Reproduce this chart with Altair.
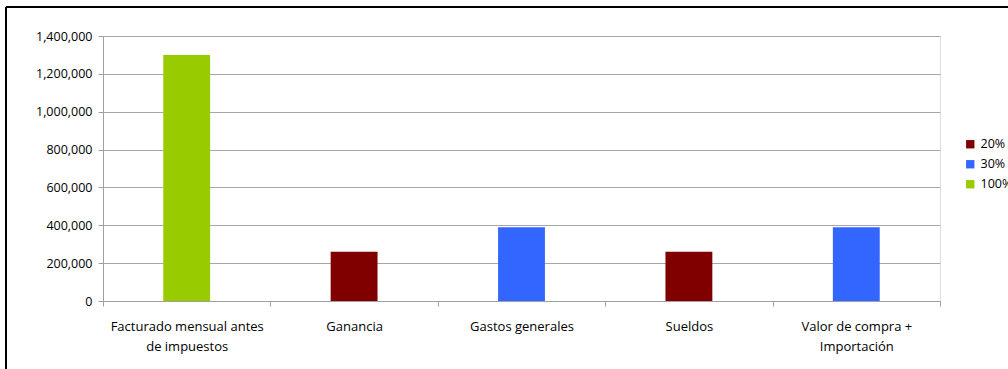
import altair as alt
import pandas as pd

categories = [
    "Facturado mensual antes\nde impuestos",
    "Ganancia",
    "Gastos generales",
    "Sueldos",
    "Valor de compra +\nImportación",
]
values = [1300000, 260000, 390000, 260000, 390000]
series = ["100%", "20%", "30%", "20%", "30%"]
legend_order = ["20%", "30%", "100%"]
colors = ["#800000", "#3366FF", "#99CC00"]

df = pd.DataFrame({"cat": categories, "val": values, "serie": series})

FONT = "Open Sans"

bars = alt.Chart(df).mark_bar(width={"band": 0.28}).encode(
    x=alt.X(
        "cat:N",
        sort=categories,
        scale=alt.Scale(paddingInner=0, paddingOuter=0),
        axis=alt.Axis(
            title=None,
            labelAngle=0,
            tickBand="extent",
            labelExpr="split(datum.label, '\\n')",
            labelFont=FONT,
            labelFontSize=13,
            labelColor="#000000",
            labelPadding=14,
            labelLineHeight=20,
            tickSize=5,
            tickColor="#a0a0a0",
            domainColor="#a0a0a0",
            grid=False,
        ),
    ),
    y=alt.Y(
        "val:Q",
        scale=alt.Scale(domain=[0, 1400000]),
        axis=alt.Axis(
            title=None,
            format=",d",
            values=[0, 200000, 400000, 600000, 800000, 1000000, 1200000, 1400000],
            labelFont=FONT,
            labelFontSize=12.5,
            labelColor="#000000",
            labelPadding=6,
            tickSize=5,
            tickColor="#a0a0a0",
            domainColor="#a0a0a0",
            gridColor="#a8a8a8",
        ),
    ),
    color=alt.Color(
        "serie:N",
        scale=alt.Scale(domain=legend_order, range=colors),
        legend=alt.Legend(
            title=None,
            orient="none",
            legendX=861,
            legendY=102,
            symbolType="square",
            symbolSize=70,
            symbolStrokeWidth=0,
            labelFont=FONT,
            labelFontSize=12.5,
            labelColor="#000000",
            rowPadding=7,
        ),
    ),
)

border = alt.Chart(df).mark_rule(color="#000000", strokeWidth=1.5).encode(
    x=alt.value(-97), x2=alt.value(-97), y=alt.value(-29), y2=alt.value(360)
)
border_top = alt.Chart(df).mark_rule(color="#000000", strokeWidth=1.5).encode(
    x=alt.value(-97), x2=alt.value(920), y=alt.value(-29), y2=alt.value(-29)
)

chart = alt.layer(bars, border, border_top).properties(
    width=837,
    height=265,
    padding={"left": 103, "top": 36, "right": 68, "bottom": 68},
    autosize=alt.AutoSizeParams(type="none"),
).configure_view(stroke="#bbbbbb", strokeWidth=1.5).configure(background="#ffffff")

chart.save("out.html", embed_options={"renderer": "svg", "actions": False})
